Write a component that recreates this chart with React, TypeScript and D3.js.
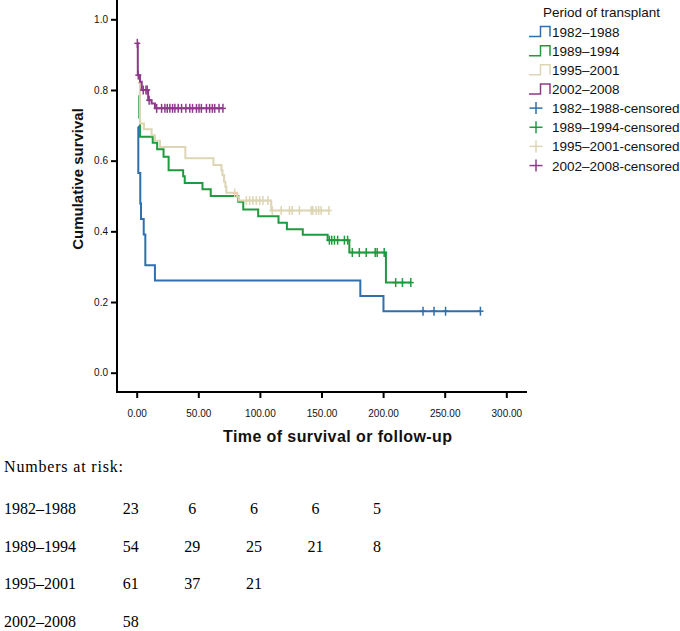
import React, { useEffect, useRef } from "react";
import * as d3 from "d3";

const periods = ["1982–1988", "1989–1994", "1995–2001", "2002–2008"];
const colors = ["#2f6fad", "#1f9a3e", "#ddd5b3", "#8e3a8a"];

const times1982 = [1, 1.3, 2.9, 3.5, 5.7, 7.0, 14.8, 181.5, 200.3];
const surv1982 = [0.696, 0.565, 0.479, 0.435, 0.391, 0.304, 0.261, 0.217, 0.174];
const end1982 = 279;
const censor1982 = [232.4, 241.3, 250.7, 279];

const times1989 = [1.5, 2.1, 2.7, 13, 16.6, 21.8, 25.9, 37.7, 39, 53.4, 60.1, 82.5, 86.5, 98.6, 115.1, 121.9, 134.8, 155, 172.6, 202.3];
const surv1989 = [0.784, 0.722, 0.668, 0.651, 0.632, 0.611, 0.573, 0.556, 0.537, 0.519, 0.5, 0.484, 0.462, 0.443, 0.424, 0.406, 0.39, 0.375, 0.34, 0.255];
const end1989 = 222.5;
const censor1989 = [156.4, 158.3, 160.5, 163.1, 168.6, 171.2, 175, 180.7, 186.3, 193.6, 195.2, 200.9, 210.2, 215.7, 222.5];

const times1995 = [1, 2.7, 5.9, 12.1, 14.8, 18.9, 39.5, 62.3, 68.8, 69.6, 70.9, 72.0, 72.8, 81.5, 83.0, 109.2];
const surv1995 = [0.82, 0.705, 0.689, 0.672, 0.656, 0.639, 0.607, 0.588, 0.573, 0.559, 0.54, 0.526, 0.509, 0.498, 0.487, 0.459];
const end1995 = 156;
const censor1995 = [79.5, 89, 91.7, 94.3, 97.1, 99.8, 102.4, 106.5, 110, 117.3, 124, 126.2, 132.1, 141.6, 142.9, 145.6, 147.7, 149.7, 156];

const times2002 = [0.5, 0.9, 2.7, 4.1, 9.3, 12.1, 14.8];
const surv2002 = [0.932, 0.842, 0.823, 0.8, 0.771, 0.762, 0.748];
const end2002 = 70;
const censor2002 = [0.5, 1.3, 5.3, 7.5, 8.5, 10.1, 16.2, 20.2, 22.9, 24.8, 26.9, 29.1, 31, 33.7, 36.4, 39.9, 43.1, 45.3, 48.5, 50.6, 52.5, 56.6, 59.2, 61.4, 63.3, 66.8, 70];

const xTicks = [0, 50, 100, 150, 200, 250, 300];
const yTicks = [0, 0.2, 0.4, 0.6, 0.8, 1.0];

const riskTimes = [0, 50, 100, 150, 200];
const risk1982 = [23, 6, 6, 6, 5];
const risk1989 = [54, 29, 25, 21, 8];
const risk1995 = [61, 37, 21];
const risk2002 = [58];

const seriesTimes = [times1982, times1989, times1995, times2002];
const seriesSurv = [surv1982, surv1989, surv1995, surv2002];
const seriesEnd = [end1982, end1989, end1995, end2002];
const seriesCensor = [censor1982, censor1989, censor1995, censor2002];
const seriesRisk = [risk1982, risk1989, risk1995, risk2002];

const SANS = "'Liberation Sans', Arial, sans-serif";
const SERIF = "'Liberation Serif', 'Times New Roman', serif";

function survAt(times: number[], surv: number[], t: number) {
  let s = surv[0];
  for (let i = 0; i < times.length; i++) if (times[i] <= t) s = surv[i];
  return s;
}

export default function App() {
  const axRef = useRef<SVGGElement>(null);
  const x = d3.scaleLinear().domain([0, 300]).range([136.7, 506.3]);
  const y = d3.scaleLinear().domain([0, 1]).range([372.7, 19.3]);

  useEffect(() => {
    const g = d3.select(axRef.current);
    g.selectAll("*").remove();
    const xa = g
      .append("g")
      .attr("transform", "translate(0,392)")
      .call(
        d3
          .axisBottom(x)
          .tickValues(xTicks)
          .tickFormat(d3.format(".2f"))
          .tickSize(6)
          .tickSizeOuter(0)
          .tickPadding(12)
      );
    xa.select(".domain").remove();
    xa.selectAll("line").attr("stroke", "#000").attr("stroke-width", 2);
    xa.selectAll("text").attr("font-family", SANS).attr("font-size", 10).attr("fill", "#111");

    const ya = g
      .append("g")
      .attr("transform", "translate(117,0)")
      .call(
        d3
          .axisLeft(y)
          .tickValues(yTicks)
          .tickFormat(d3.format(".1f"))
          .tickSize(6)
          .tickSizeOuter(0)
          .tickPadding(3)
      );
    ya.select(".domain").remove();
    ya.selectAll("line").attr("stroke", "#000").attr("stroke-width", 2);
    ya.selectAll("text").attr("font-family", SANS).attr("font-size", 10).attr("fill", "#111");

    g.append("line").attr("x1", 117).attr("x2", 117).attr("y1", 0).attr("y2", 393).attr("stroke", "#000").attr("stroke-width", 2);
    g.append("line").attr("x1", 116).attr("x2", 527).attr("y1", 392).attr("y2", 392).attr("stroke", "#000").attr("stroke-width", 2);
  }, []);

  const line = d3
    .line<[number, number]>()
    .x((d) => x(d[0]))
    .y((d) => y(d[1]))
    .curve(d3.curveStepAfter);

  const legendY0 = 31.5;
  const legendStep = 19.15;

  return (
    <div>
      <style>{"body{margin:0}"}</style>
      <svg width={680} height={631} style={{ display: "block" }}>
        <rect width={680} height={631} fill="#fff" />
        {periods.map((p, i) => {
          const pts: [number, number][] = seriesTimes[i].map((t, j) => [t, seriesSurv[i][j]] as [number, number]);
          pts.push([seriesEnd[i], seriesSurv[i][seriesSurv[i].length - 1]]);
          return (
            <g key={p}>
              <path d={line(pts) || ""} fill="none" stroke={colors[i]} strokeWidth={2} />
              {seriesCensor[i].map((c, k) => {
                const cx = x(c);
                const cy = y(survAt(seriesTimes[i], seriesSurv[i], c));
                return (
                  <g key={k} stroke={colors[i]} strokeWidth={1.5}>
                    <line x1={cx} x2={cx} y1={cy - 4.5} y2={cy + 4.5} />
                    <line x1={cx - 3} x2={cx + 3} y1={cy} y2={cy} />
                  </g>
                );
              })}
            </g>
          );
        })}
        <g ref={axRef} />
        <text
          transform="translate(83,179) rotate(-90)"
          textAnchor="middle"
          fontFamily={SANS}
          fontWeight="bold"
          fontSize={15}
          fill="#111"
        >
          Cumulative survival
        </text>
        <text
          x={337.5}
          y={442}
          textAnchor="middle"
          fontFamily={SANS}
          fontWeight="bold"
          fontSize={16}
          textLength={229}
          lengthAdjust="spacing"
          fill="#111"
        >
          Time of survival or follow-up
        </text>

        <text x={543} y={17} fontFamily={SANS} fontSize={13.5} fill="#111">
          Period of transplant
        </text>
        {periods.map((p, i) => {
          const cy = legendY0 + i * legendStep;
          return (
            <g key={"l" + p}>
              <path
                d={`M529,${cy + 5}H540.5V${cy - 5}H550V${cy + 5}`}
                fill="none"
                stroke={colors[i]}
                strokeWidth={1.5}
              />
              <text x={552} y={cy + 5} fontFamily={SANS} fontSize={13.5} fill="#111">
                {p}
              </text>
            </g>
          );
        })}
        {periods.map((p, i) => {
          const cy = legendY0 + (i + 4) * legendStep;
          return (
            <g key={"c" + p}>
              <line x1={529.5} x2={542.5} y1={cy} y2={cy} stroke={colors[i]} strokeWidth={1.5} />
              <line x1={536} x2={536} y1={cy - 6} y2={cy + 6} stroke={colors[i]} strokeWidth={1.5} />
              <text x={552} y={cy + 5} fontFamily={SANS} fontSize={13.5} fill="#111">
                {p + "-censored"}
              </text>
            </g>
          );
        })}

        <text x={4} y={472} fontFamily={SERIF} fontSize={16} textLength={119} lengthAdjust="spacing" fill="#000">
          Numbers at risk:
        </text>
        {periods.map((p, i) => {
          const by = 514 + i * 37.5;
          return (
            <g key={"r" + p}>
              <text x={4} y={by} fontFamily={SERIF} fontSize={16} fill="#000">
                {p}
              </text>
              {seriesRisk[i].map((n, k) => (
                <text key={k} x={x(riskTimes[k]) - 6} y={by} textAnchor="middle" fontFamily={SERIF} fontSize={16} fill="#000">
                  {n}
                </text>
              ))}
            </g>
          );
        })}
      </svg>
    </div>
  );
}
